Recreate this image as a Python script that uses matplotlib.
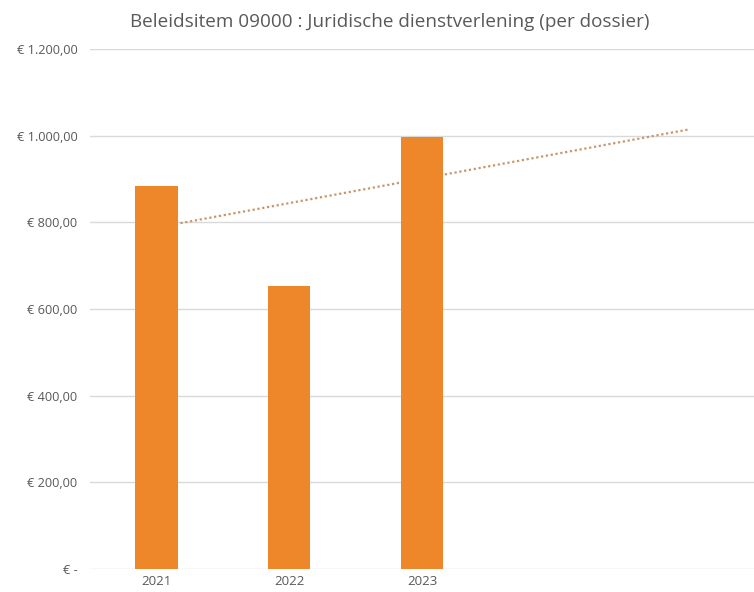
import numpy as np
import matplotlib
matplotlib.use('Agg')
import matplotlib.pyplot as plt

plt.rcParams['font.family'] = ['Open Sans', 'DejaVu Sans']

years = ['2021', '2022', '2023', '', '']
values = [884, 652, 997]
yticks = [0, 200, 400, 600, 800, 1000, 1200]
ytick_labels = ['€ -', '€ 200,00', '€ 400,00', '€ 600,00', '€ 800,00', '€ 1.000,00', '€ 1.200,00']

fig = plt.figure(figsize=(7.54, 5.92), dpi=100)
ax = fig.add_axes([90 / 754, 1 - 569 / 592, 1 - 90 / 754, (569 - 49) / 592])

x = np.arange(len(years))
xv = np.arange(len(values))

# linear trendline over the data, extended to the last slot
coef = np.polyfit(xv, values, 1)
ax.plot([0, 4], np.polyval(coef, [0, 4]), linestyle=(0, (1, 1.2)), color='#C9956A',
        linewidth=1.6, zorder=2)

ax.bar(xv, values, width=0.32, color='#EE8729', zorder=3)

ax.set_xlim(-0.5, 4.5)
ax.set_ylim(0, 1200)
ax.set_xticks(x)
ax.set_xticklabels(years, fontsize=9.5)
ax.set_yticks(yticks)
ax.set_yticklabels(ytick_labels, fontsize=9.2)
ax.grid(axis='y', color='#D9D9D9', linewidth=1, zorder=0)
ax.set_axisbelow(True)
for s in ax.spines.values():
    s.set_visible(False)
ax.tick_params(length=0, colors='#595959')
ax.tick_params(axis='y', pad=9)
ax.tick_params(axis='x', pad=4)

fig.text(390 / 754, 1 - 22 / 592, 'Beleidsitem 09000 : Juridische dienstverlening (per dossier)',
         ha='center', va='center', fontsize=13.6, color='#595959')

fig.savefig('out.png', dpi=100)
